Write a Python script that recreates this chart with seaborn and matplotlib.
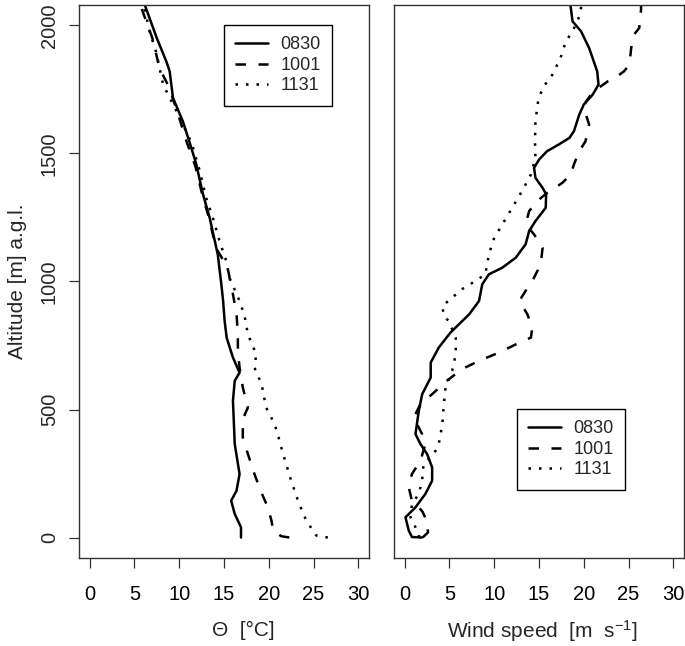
import matplotlib
matplotlib.use("Agg")
import matplotlib.pyplot as plt
import seaborn as sns
import pandas as pd
from matplotlib.lines import Line2D

# ---------------- data ----------------
series_names = ["0830", "1001", "1131"]

theta_0830_alt = [0, 40, 92, 144, 183, 248, 300, 365, 450, 534, 612, 644, 703, 780, 846, 924, 990,
                  1106, 1249, 1341, 1458, 1522, 1626, 1717, 1821, 1860, 1950, 2085]
theta_0830_val = [16.9, 16.9, 16.2, 15.8, 16.4, 16.74, 16.5, 16.2, 16.1, 16.0, 16.2, 16.74, 16.0, 15.3,
                  15.07, 14.9, 14.7, 14.3, 13.4, 12.65, 11.9, 11.35, 10.4, 9.3, 8.93, 8.55, 7.5, 6.1]

theta_1001_alt = [0, 5, 27, 66, 118, 177, 248, 326, 391, 463, 508, 586, 664, 729, 794, 873, 950,
                  1054, 1132, 1250, 1350, 1450, 1548, 1639, 1756, 1833, 1950, 2085]
theta_1001_val = [22.3, 21.4, 20.5, 20.3, 19.9, 19.16, 18.4, 17.67, 17.1, 17.1, 17.67, 17.1, 16.74,
                  16.55, 16.55, 16.4, 16.0, 15.4, 14.1, 13.3, 12.5, 11.8, 10.8, 10.0, 8.9, 7.8, 7.0, 5.6]

theta_1131_alt = [0, 8, 66, 131, 222, 287, 326, 404, 443, 508, 599, 664, 716, 794, 865, 924, 1015,
                  1080, 1158, 1249, 1327, 1431, 1540, 1665, 1769, 1898, 1976, 2085]
theta_1131_val = [26.6, 25.3, 24.2, 23.4, 22.5, 21.95, 21.6, 21.0, 20.65, 19.7, 19.2, 18.4, 18.6,
                  17.67, 17.3, 16.74, 15.6, 15.25, 14.5, 13.76, 13.0, 12.3, 11.4, 9.7, 8.2, 7.4, 6.7, 6.0]

wind_0830_alt = [0, 2, 27, 79, 118, 170, 222, 274, 326, 365, 404, 495, 560, 625, 683, 742, 800, 872,
                 924, 989, 1028, 1054, 1093, 1145, 1197, 1236, 1288, 1340, 1366, 1405, 1444, 1476,
                 1509, 1535, 1561, 1587, 1652, 1691, 1730, 1769, 1821, 1912, 1977, 2016, 2070, 2085]
wind_0830_val = [1.9, 0.8, 0.45, 0.08, 1.2, 2.3, 3.06, 3.06, 2.5, 1.76, 1.2, 1.57, 1.95, 2.9, 2.9,
                 3.8, 5.1, 7.2, 8.3, 8.66, 9.4, 10.9, 12.4, 13.5, 13.9, 14.6, 15.75, 15.8, 15.4, 14.6,
                 14.45, 15.0, 15.9, 17.2, 18.4, 18.9, 19.5, 20.0, 21.0, 21.65, 21.5, 20.6, 19.7, 18.75,
                 18.55, 18.5]

wind_1001_alt = [0, 20, 60, 100, 118, 144, 196, 248, 300, 365, 404, 469, 521, 560, 612, 658, 690, 722,
                 761, 781, 820, 872, 924, 963, 1002, 1067, 1132, 1184, 1223, 1275, 1314, 1346, 1385,
                 1418, 1457, 1509, 1548, 1613, 1678, 1700, 1740, 1782, 1788, 1821, 1847, 1912, 1964,
                 1990, 2061, 2085]
wind_1001_val = [2.0, 2.6, 2.5, 2.0, 1.57, 0.8, 0.45, 0.8, 1.76, 2.3, 1.94, 1.0, 1.76, 3.06, 4.7,
                 6.4, 8.3, 10.5, 12.8, 14.1, 14.25, 13.7, 12.8, 13.5, 14.25, 15.2, 15.4, 14.45, 13.5,
                 13.9, 14.8, 15.9, 17.6, 18.55, 18.9, 19.5, 20.2, 20.6, 20.0, 20.2, 21.0, 22.7, 23.2,
                 24.5, 25.1, 25.3, 25.6, 26.2, 26.4, 26.4]

wind_1131_alt = [0, 14, 40, 79, 131, 170, 222, 287, 326, 365, 443, 521, 586, 651, 716, 781, 846, 865,
                 904, 937, 970, 1002, 1028, 1106, 1171, 1223, 1288, 1353, 1418, 1483, 1548, 1626,
                 1704, 1756, 1808, 1873, 1938, 1977, 2035, 2070, 2085]
wind_1131_val = [1.6, 1.57, 1.2, 0.64, 0.8, 1.57, 1.94, 2.1, 3.25, 3.8, 4.2, 4.37, 4.56, 5.3, 5.7,
                 5.7, 4.9, 4.37, 4.2, 5.3, 6.4, 7.9, 9.0, 9.4, 10.0, 10.9, 12.0, 13.1, 14.1, 14.6,
                 14.55, 14.6, 14.9, 15.4, 16.5, 17.4, 18.0, 18.75, 19.5, 19.7, 19.8]

x_ticks = [0, 5, 10, 15, 20, 25, 30]
y_ticks = [0, 500, 1000, 1500, 2000]

# ---------------- styling ----------------
sns.set_style("ticks")
plt.rcParams["font.family"] = ["Liberation Sans", "DejaVu Sans"]
plt.rcParams["mathtext.fontset"] = "custom"
plt.rcParams["mathtext.rm"] = "Liberation Sans"
plt.rcParams["mathtext.it"] = "Liberation Sans:italic"
plt.rcParams["mathtext.bf"] = "Liberation Sans:bold"

LW = 1.8
dash_styles = {"0830": "", "1001": (4.2, 5.0), "1131": (1.0, 3.2)}
EDGE = "#333333"
TICK_FS = 14.5
LABEL_FS = 15


def make_frame(alts, vals):
    rows = []
    for name, a, v in zip(series_names, alts, vals):
        rows.append(pd.DataFrame({"alt": a, "val": v, "series": name}))
    return pd.concat(rows, ignore_index=True)


theta_df = make_frame([theta_0830_alt, theta_1001_alt, theta_1131_alt],
                      [theta_0830_val, theta_1001_val, theta_1131_val])
wind_df = make_frame([wind_0830_alt, wind_1001_alt, wind_1131_alt],
                     [wind_0830_val, wind_1001_val, wind_1131_val])

fig = plt.figure(figsize=(6.85, 6.46), dpi=100)
fig.patch.set_facecolor("white")
W, H = 685, 646
ax1 = fig.add_axes([79 / W, 1 - 558 / H, 290 / W, 553 / H])
ax2 = fig.add_axes([394 / W, 1 - 558 / H, 290 / W, 553 / H])

for ax, df in ((ax1, theta_df), (ax2, wind_df)):
    sns.lineplot(data=df, x="val", y="alt", style="series", style_order=series_names,
                 dashes=dash_styles, color="black", linewidth=LW, estimator=None,
                 sort=False, orient="y", ax=ax, legend=False)
    ax.set_xlim(-1.2, 31.2)
    ax.set_ylim(-80, 2080)
    ax.set_xticks(x_ticks)
    ax.set_xticklabels([str(t) for t in x_ticks], fontsize=TICK_FS)
    ax.set_yticks(y_ticks)
    for s in ax.spines.values():
        s.set_visible(True)
        s.set_color(EDGE)
        s.set_linewidth(1.0)
    ax.tick_params(axis="x", direction="out", length=7.5, width=0.9, color=EDGE, pad=12,
                   labelcolor="black")
    ax.set_facecolor("white")
    ax.grid(False)

ax1.tick_params(axis="y", direction="out", length=7.5, width=0.9, color=EDGE, pad=7)
ax1.set_yticklabels([str(t) for t in y_ticks], fontsize=TICK_FS, rotation=90, va="center")
ax2.tick_params(axis="y", left=False, labelleft=False)
ax2.set_ylabel("")

ax1.set_ylabel("Altitude [m] a.g.l.", fontsize=LABEL_FS)
ax1.yaxis.set_label_coords(-0.18, 0.5)
ax1.set_xlabel("Θ  [°C]", fontsize=LABEL_FS)
ax1.xaxis.set_label_coords(0.566, -0.113)
ax2.set_xlabel(r"Wind speed  [m  s$^{\mathregular{-1}}$]", fontsize=LABEL_FS)
ax2.xaxis.set_label_coords(0.513, -0.108)

handles = [Line2D([], [], color="black", linewidth=LW,
                  linestyle="-" if dash_styles[n] == "" else (0, dash_styles[n]))
           for n in series_names]

for ax, anchor in ((ax1, (0.5, 0.9638)), (ax2, (0.425, 0.2694))):
    leg = ax.legend(handles, series_names, loc="upper left", bbox_to_anchor=anchor,
                    borderaxespad=0, fontsize=13, handlelength=1.8, handletextpad=0.7,
                    labelspacing=0.2, borderpad=0.62, fancybox=False, framealpha=1,
                    edgecolor="black")
    leg.get_frame().set_linewidth(1.0)

fig.savefig("out.png", dpi=100, facecolor="white")
